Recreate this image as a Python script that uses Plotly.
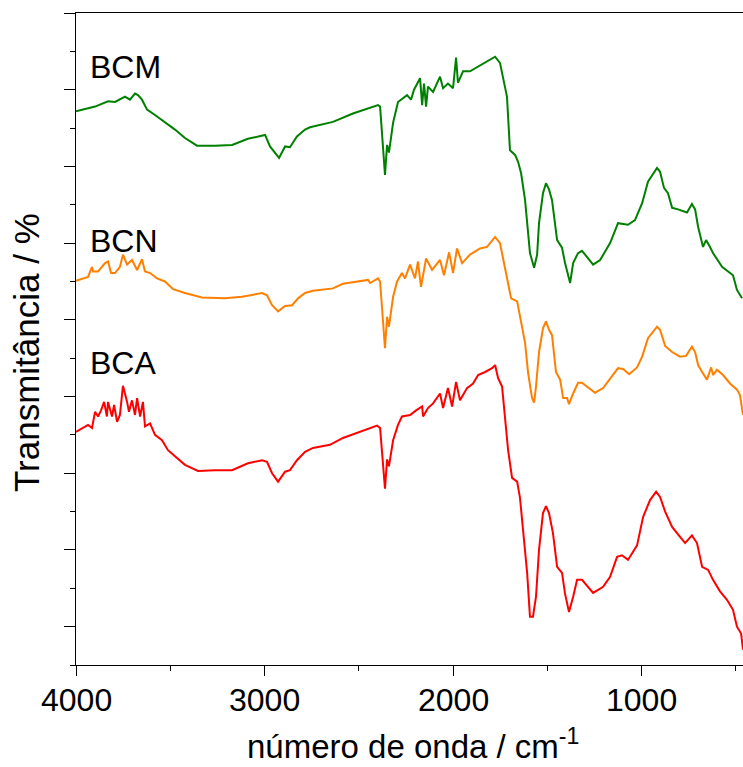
import plotly.graph_objects as go

# wavenumber (cm-1) and transmittance (a.u., offset spectra)
bcm_x = [4000, 3899, 3830, 3793, 3740, 3714, 3687, 3671, 3650, 3623, 3581, 3528, 3475, 3422, 3358,
         3263, 3172, 3088, 2997, 2971, 2923, 2891, 2865, 2828, 2785, 2759, 2637, 2531, 2398, 2387,
         2361, 2350, 2340, 2318, 2292, 2244, 2223, 2207, 2175, 2164, 2154, 2143, 2133, 2106, 2069,
         2053, 2027, 2000, 1984, 1974, 1947, 1910, 1857, 1804, 1777, 1751, 1735, 1714, 1698, 1671,
         1655, 1639, 1618, 1592, 1570, 1554, 1544, 1523, 1507, 1491, 1475, 1448, 1422, 1406, 1379,
         1363, 1337, 1316, 1257, 1220, 1167, 1125, 1072, 1035, 997, 966, 918, 902, 881, 860,
         838, 806, 759, 733, 716, 700, 674, 658, 637, 621, 573, 515, 494, 467]
bcm_y = [72.2, 72.8, 73.5, 73.4, 74.1, 73.7, 74.5, 74.3, 73.7, 72.4, 71.7, 70.8, 69.8, 68.7, 67.7,
         67.7, 67.8, 68.6, 69.1, 67.6, 66.1, 67.6, 67.5, 68.9, 69.8, 70.1, 70.8, 71.9, 73.0, 72.8,
         63.9, 67.8, 66.8, 70.7, 73.4, 74.3, 73.7, 75.0, 76.5, 73.0, 75.8, 72.8, 75.4, 74.7, 76.7,
         75.2, 75.8, 75.2, 79.2, 75.9, 77.4, 77.4, 78.2, 78.9, 79.3, 78.5, 76.7, 74.1, 67.1, 66.5,
         65.6, 64.1, 60.6, 53.7, 51.8, 53.5, 57.6, 61.5, 62.8, 62.0, 60.6, 55.4, 54.4, 52.4, 49.8,
         52.4, 53.7, 54.0, 52.2, 52.8, 55.0, 57.6, 57.4, 58.0, 60.2, 63.0, 64.8, 64.3, 62.2, 61.5,
         59.6, 59.4, 59.0, 60.1, 59.4, 57.1, 54.5, 55.4, 54.5, 53.7, 51.9, 50.8, 48.9, 47.8]

bcn_x = [4000, 3936, 3915, 3910, 3883, 3846, 3830, 3814, 3793, 3767, 3751, 3729, 3703, 3676, 3650,
         3634, 3607, 3570, 3528, 3485, 3422, 3332, 3210, 3119, 3013, 2987, 2960, 2928, 2891, 2854,
         2822, 2785, 2743, 2637, 2584, 2509, 2451, 2440, 2398, 2387, 2361, 2350, 2340, 2318, 2297,
         2271, 2255, 2228, 2202, 2186, 2170, 2143, 2111, 2069, 2048, 2021, 2000, 1979, 1952, 1910,
         1857, 1820, 1777, 1751, 1729, 1708, 1692, 1660, 1645, 1618, 1602, 1581, 1570, 1560, 1544,
         1523, 1507, 1491, 1475, 1454, 1432, 1416, 1395, 1385, 1363, 1337, 1316, 1247, 1204, 1157,
         1125, 1098, 1066, 1024, 997, 966, 918, 902, 875, 838, 796, 764, 733, 716, 700,
         679, 653, 631, 621, 600, 568, 531, 494, 478, 462]
bcn_y = [50.1, 50.6, 51.9, 51.3, 51.3, 52.4, 52.6, 51.1, 51.1, 51.9, 53.5, 52.2, 52.8, 51.5, 52.9,
         51.3, 51.1, 50.4, 50.0, 49.0, 48.5, 47.9, 47.8, 48.0, 48.5, 48.2, 46.9, 46.1, 46.8, 46.9,
         47.8, 48.5, 48.8, 49.1, 49.7, 50.0, 50.2, 49.8, 50.4, 50.0, 41.3, 45.4, 44.1, 48.0, 50.0,
         51.1, 50.4, 52.2, 50.4, 52.6, 49.3, 53.0, 51.5, 52.8, 50.8, 53.8, 51.1, 54.3, 52.4, 53.5,
         54.3, 54.5, 55.8, 55.0, 52.4, 49.8, 47.8, 47.4, 45.4, 42.0, 38.1, 34.8, 34.2, 36.3, 40.8,
         43.9, 44.8, 43.7, 43.0, 38.2, 37.2, 34.8, 34.8, 34.0, 35.4, 36.8, 36.8, 35.5, 36.1, 37.6,
         38.7, 38.6, 37.9, 38.8, 40.2, 42.6, 44.1, 43.7, 41.6, 40.8, 40.2, 40.3, 41.5, 40.8, 39.1,
         38.2, 37.2, 38.8, 37.8, 38.5, 37.8, 36.7, 35.9, 35.2, 32.6]

bca_x = [4000, 3936, 3915, 3899, 3883, 3867, 3851, 3836, 3830, 3809, 3798, 3782, 3767, 3751, 3729,
         3719, 3703, 3687, 3676, 3660, 3645, 3634, 3607, 3581, 3544, 3512, 3475, 3422, 3353, 3263,
         3172, 3088, 3013, 2987, 2960, 2928, 2891, 2865, 2828, 2785, 2743, 2653, 2584, 2493, 2403,
         2387, 2361, 2350, 2340, 2318, 2292, 2271, 2228, 2196, 2164, 2159, 2133, 2106, 2069, 2053,
         2027, 2005, 1984, 1963, 1926, 1894, 1867, 1830, 1793, 1777, 1761, 1740, 1724, 1708, 1687,
         1660, 1645, 1629, 1607, 1592, 1576, 1560, 1544, 1523, 1507, 1491, 1470, 1448, 1422, 1406,
         1385, 1363, 1342, 1316, 1257, 1204, 1167, 1130, 1104, 1072, 1024, 992, 955, 923, 902,
         875, 838, 796, 769, 733, 706, 679, 647, 621, 584, 547, 515, 494, 472, 462]
bca_y = [30.4, 31.3, 30.9, 33.0, 32.4, 33.2, 34.3, 32.4, 34.3, 32.4, 33.9, 31.7, 32.6, 36.4, 34.3,
         33.0, 34.5, 32.6, 34.8, 32.4, 34.3, 31.1, 31.5, 30.0, 29.3, 28.0, 27.2, 26.1, 25.3, 25.4,
         25.4, 26.3, 26.7, 26.5, 25.0, 23.9, 25.2, 25.4, 26.7, 27.8, 28.3, 28.7, 29.6, 30.4, 31.2,
         30.9, 23.0, 26.8, 25.9, 29.3, 31.3, 32.4, 32.6, 33.2, 33.7, 32.4, 33.5, 34.1, 35.4, 33.5,
         36.1, 33.7, 36.9, 34.5, 36.1, 36.7, 37.8, 38.2, 38.7, 39.1, 37.4, 36.3, 32.4, 28.0, 24.4,
         23.9, 21.8, 18.0, 12.0, 6.3, 6.3, 8.9, 15.0, 19.8, 20.7, 19.8, 17.2, 12.8, 12.0, 9.3,
         6.9, 8.9, 11.1, 11.1, 9.4, 10.2, 11.5, 14.1, 14.3, 13.7, 15.6, 19.3, 21.5, 22.6, 21.9,
         20.0, 18.0, 16.7, 15.9, 16.9, 15.9, 12.8, 12.4, 11.1, 9.6, 8.5, 7.2, 5.0, 4.1, 2.0]

labels = ["BCM", "BCN", "BCA"]
label_y = [78.0, 55.3, 39.4]
colors = ["#008000", "#FF8000", "#FF0000"]
x_ticks = [4000, 3000, 2000, 1000]
x_ticklabels = ["4000", "3000", "2000", "1000"]

FONT = "Liberation Sans"

fig = go.Figure()
for name, xs, ys, c in zip(labels, [bcm_x, bcn_x, bca_x], [bcm_y, bcn_y, bca_y], colors):
    fig.add_trace(go.Scatter(x=xs, y=ys, mode="lines", name=name,
                             line=dict(color=c, width=2), showlegend=False))

for name, yv in zip(labels, label_y):
    fig.add_annotation(x=3935, y=yv, text=name, showarrow=False, xanchor="left", yanchor="middle",
                       font=dict(family=FONT, size=32, color="black"))

# x tick labels
for xv, lab in zip(x_ticks, x_ticklabels):
    fig.add_annotation(x=xv, xref="x", y=0, yref="paper", text=lab, showarrow=False,
                       xanchor="center", yanchor="middle", yshift=-35,
                       font=dict(family=FONT, size=32, color="black"))

# axis titles
fig.add_annotation(x=0.5, xref="paper", y=0, yref="paper", text="número de onda / cm<sup>-1</sup>",
                   showarrow=False, xanchor="center", yanchor="bottom", yshift=-101, xshift=3,
                   borderpad=0, font=dict(family=FONT, size=33, color="black"))
fig.add_annotation(x=0, xref="paper", y=0.5, yref="paper", text="Transmitância / %", textangle=-90,
                   showarrow=False, xanchor="center", yanchor="middle", xshift=-50, yshift=-14,
                   font=dict(family=FONT, size=35, color="black"))

fig.update_layout(
    width=743, height=767,
    margin=dict(l=76, r=0, t=13, b=102),
    plot_bgcolor="white", paper_bgcolor="white",
    font=dict(family=FONT, size=32, color="black"),
)
fig.update_xaxes(
    range=[4000, 462], showgrid=False, zeroline=False, automargin=False,
    showline=True, linecolor="black", linewidth=1.2, mirror=True,
    ticks="outside", ticklen=10, tickwidth=1.2, tickcolor="black",
    tickmode="linear", tick0=0, dtick=1000, showticklabels=False,
    minor=dict(ticks="outside", ticklen=5, tickwidth=1.2, tickcolor="black", dtick=500, tick0=0, showgrid=False),
)
fig.update_yaxes(
    range=[0, 85], showgrid=False, zeroline=False, automargin=False,
    showline=True, linecolor="black", linewidth=1.2,
    ticks="outside", ticklen=11, tickwidth=1.2, tickcolor="black",
    tickmode="linear", tick0=5, dtick=10, showticklabels=False,
    minor=dict(ticks="outside", ticklen=5, tickwidth=1.2, tickcolor="black", dtick=5, tick0=0, showgrid=False),
)

fig.write_html("out.html", config={"displayModeBar": False},
               post_script="document.body.style.margin='0px';document.body.style.overflow='hidden';")
